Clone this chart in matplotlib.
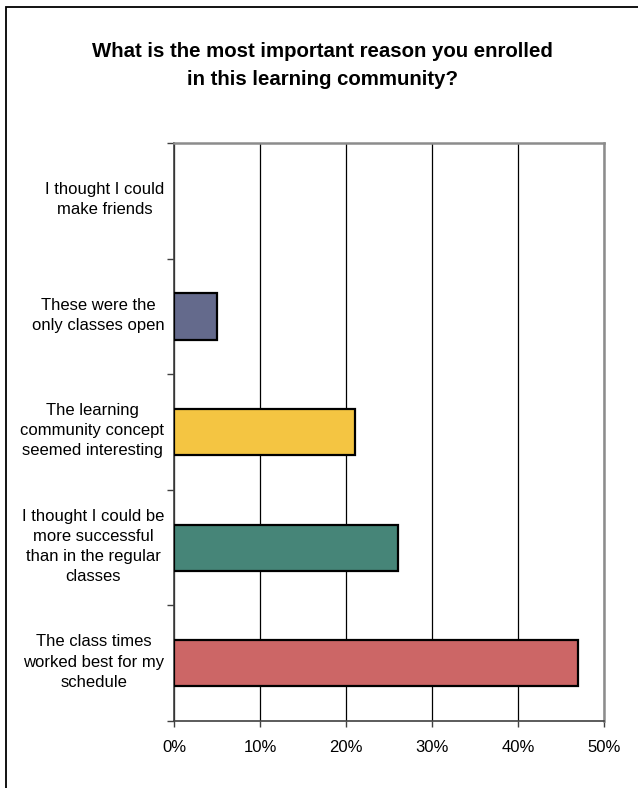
import numpy as np
import matplotlib
matplotlib.use("Agg")
import matplotlib.pyplot as plt
from matplotlib.patches import Rectangle

plt.rcParams["font.family"] = ["Liberation Sans", "DejaVu Sans"]

# categories listed bottom to top
reasons = [
    "The class times\nworked best for my\nschedule",
    "I thought I could be\nmore successful\nthan in the regular\nclasses",
    "The learning\ncommunity concept\nseemed interesting",
    "These were the\nonly classes open",
    "I thought I could\nmake friends",
]
percent = [47, 26, 21, 5, 0]
colors = ["#CC6666", "#468578", "#F4C542", "#646A8C", "#9999FF"]
xticks = [0, 10, 20, 30, 40, 50]
xlabels = ["0%", "10%", "20%", "30%", "40%", "50%"]

fig = plt.figure(figsize=(6.38, 7.88), dpi=100, facecolor="white")
ax = fig.add_axes([0.2727, 0.0850, 0.6740, 0.7335])

y = np.arange(len(reasons))
for i in range(len(reasons)):
    if percent[i] > 0:
        ax.barh(y[i], percent[i], height=0.4, color=colors[i],
                edgecolor="black", linewidth=1.6, zorder=3)

ax.set_xlim(0, 50)
ax.set_ylim(-0.5, len(reasons) - 0.5)
ax.set_xticks(xticks)
ax.set_xticklabels(xlabels, fontsize=12)
ax.xaxis.grid(True, color="black", linewidth=0.9)
ax.set_axisbelow(True)

# major ticks on category edges, labels on minor ticks (sitting a bit above centre)
ax.set_yticks(np.arange(len(reasons) + 1) - 0.5)
ax.set_yticklabels([])
ax.set_yticks(y + 0.045, minor=True)
ax.set_yticklabels(reasons, minor=True, fontsize=12, ha="right",
                   multialignment="center", linespacing=1.42)
ax.tick_params(axis="y", which="minor", length=0, pad=7)
ax.tick_params(axis="y", which="major", length=5, width=1, color="#404040")
ax.tick_params(axis="x", length=4, width=1, color="#404040", pad=10)

for s in ["left", "bottom"]:
    ax.spines[s].set_color("#404040")
    ax.spines[s].set_linewidth(1.2)
for s in ["top", "right"]:
    ax.spines[s].set_color("#8C8C8C")
    ax.spines[s].set_linewidth(1.8)

fig.text(0.505, 0.9175, "What is the most important reason you enrolled\nin this learning community?",
         ha="center", va="center", fontsize=14.7, fontweight="bold", linespacing=1.6)

fig.patches.append(Rectangle((6 / 638, -0.1), 1.2, 1 - 7 / 788 + 0.1,
                             transform=fig.transFigure, fill=False,
                             edgecolor="black", linewidth=1.3))

fig.savefig("out.png", dpi=100)
